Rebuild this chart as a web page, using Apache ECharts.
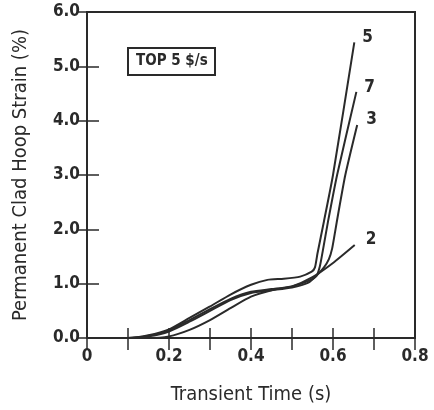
<!DOCTYPE html>
<html>
<head>
<meta charset="utf-8">
<script src="https://cdn.jsdelivr.net/npm/echarts@6/dist/echarts.min.js"></script>
<style>html,body{margin:0;padding:0;background:#fff}#c{width:434px;height:410px}</style>
</head>
<body>
<div id="c"></div>
<script>
// Data (x: transient time s, y: permanent clad hoop strain %)
const curve5 = [[0,0],[0.1,0],[0.15,0.05],[0.2,0.16],[0.25,0.37],[0.3,0.58],[0.35,0.8],[0.4,0.98],[0.44,1.07],[0.48,1.09],[0.52,1.13],[0.548,1.22],[0.556,1.3],[0.562,1.55],[0.578,2.15],[0.6,3.0],[0.652,5.44]];
const curve7 = [[0,0],[0.1,0],[0.15,0.04],[0.2,0.14],[0.25,0.33],[0.3,0.53],[0.35,0.72],[0.4,0.85],[0.45,0.9],[0.5,0.95],[0.54,1.05],[0.56,1.15],[0.568,1.32],[0.575,1.6],[0.588,2.15],[0.61,3.0],[0.657,4.53]];
const curve3 = [[0,0],[0.1,0],[0.15,0.03],[0.2,0.12],[0.25,0.3],[0.3,0.5],[0.35,0.7],[0.4,0.83],[0.45,0.88],[0.5,0.93],[0.54,1.02],[0.56,1.15],[0.578,1.3],[0.59,1.45],[0.598,1.65],[0.605,1.95],[0.613,2.3],[0.63,3.0],[0.659,3.92]];
const curve2 = [[0,0],[0.1,0],[0.15,0],[0.2,0.03],[0.25,0.15],[0.3,0.33],[0.35,0.55],[0.4,0.76],[0.45,0.88],[0.5,0.95],[0.55,1.12],[0.6,1.38],[0.653,1.71]];
const seriesNames = ['5','7','3','2'];
const xTickLabels = ['0','0.2','0.4','0.6','0.8'];
const yTickLabels = ['0.0','1.0','2.0','3.0','4.0','5.0','6.0'];
const boxText = 'TOP 5 $/s';

const FONT = 'DejaVu Sans Condensed';
const INK = '#2a2a2a';
const chart = echarts.init(document.getElementById('c'), null, {renderer:'canvas'});
const labelOffsets = {'5':[0,-5],'7':[0,-4],'3':[1,-5],'2':[3,-6]};
const datas = {'5':curve5,'7':curve7,'3':curve3,'2':curve2};

function xFmt(v){
  const i = Math.round(v*10);
  if (i % 2 !== 0) return '';
  return xTickLabels[i/2] || '';
}
function yFmt(v){ return yTickLabels[Math.round(v)] || ''; }

chart.setOption({
  animation:false,
  backgroundColor:'#fff',
  title:{
    text: boxText, left:128, top:48,
    borderColor: INK, borderWidth:2, padding:[6,8,6,8],
    textStyle:{fontFamily:FONT, fontSize:15, fontWeight:'bold', color:INK}
  },
  grid:{left:87, right:19, top:12, bottom:72, show:true, borderColor:INK, borderWidth:2},
  xAxis:[{
    type:'value', min:0, max:0.8, interval:0.1, position:'bottom',
    axisLine:{show:true, onZero:false, lineStyle:{color:INK, width:2}},
    axisTick:{show:true, inside:true, length:10, lineStyle:{color:INK, width:1.5}},
    splitLine:{show:false},
    axisLabel:{formatter:xFmt, margin:10, fontFamily:FONT, fontSize:17, fontWeight:'bold', color:INK, showMinLabel:true, showMaxLabel:true},
    name:'Transient Time (s)', nameLocation:'middle', nameGap:47,
    nameTextStyle:{fontFamily:FONT, fontSize:20, color:INK}
  },{
    type:'value', min:0, max:0.8, interval:0.1, position:'top',
    axisLine:{show:true, lineStyle:{color:INK, width:2}},
    axisTick:{show:true, inside:true, length:12, lineStyle:{color:INK, width:1.5}},
    splitLine:{show:false}, axisLabel:{show:false}
  }],
  yAxis:[{
    type:'value', min:0, max:6, interval:1, position:'left',
    axisLine:{show:true, onZero:false, lineStyle:{color:INK, width:2}},
    axisTick:{show:true, inside:true, length:12, lineStyle:{color:INK, width:1.5}},
    splitLine:{show:false},
    axisLabel:{formatter:yFmt, margin:7, fontFamily:FONT, fontSize:17, fontWeight:'bold', color:INK},
    name:'Permanent Clad Hoop Strain (%)', nameLocation:'middle', nameGap:56,
    nameTextStyle:{fontFamily:FONT, fontSize:20, color:INK}
  },{
    type:'value', min:0, max:6, interval:1, position:'right',
    axisLine:{show:true, lineStyle:{color:INK, width:2}},
    axisTick:{show:true, inside:true, length:10, lineStyle:{color:INK, width:1.5}},
    splitLine:{show:false}, axisLabel:{show:false}
  }],
  series: seriesNames.map(n => ({
    name:n, type:'line', data:datas[n], xAxisIndex:0, yAxisIndex:0,
    showSymbol:false, symbol:'none', smooth:0.2,
    lineStyle:{color:INK, width:2},
    endLabel:{show:true, formatter:'{a}', offset:labelOffsets[n], fontFamily:FONT, fontSize:17, fontWeight:'bold', color:INK}
  }))
});
</script>
</body>
</html>
